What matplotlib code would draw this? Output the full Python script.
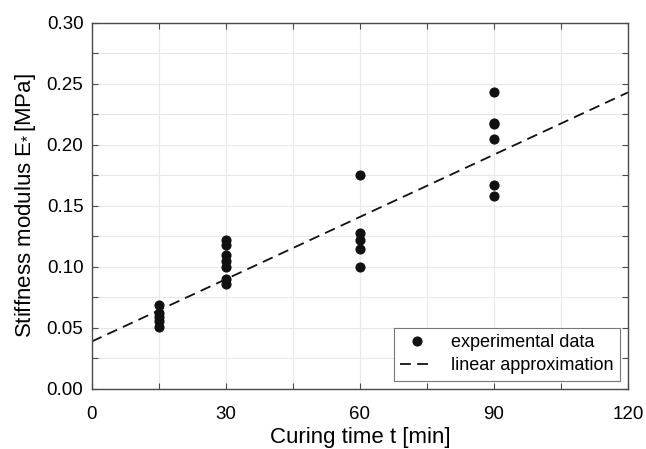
import numpy as np
import matplotlib
matplotlib.use('Agg')
import matplotlib.pyplot as plt
from matplotlib.ticker import MultipleLocator

plt.rcParams['font.family'] = ['Liberation Sans', 'DejaVu Sans']
plt.rcParams['mathtext.fontset'] = 'custom'
plt.rcParams['mathtext.rm'] = 'Liberation Sans'
plt.rcParams['mathtext.default'] = 'regular'

# experimental data (curing time in min, stiffness in MPa)
t15 = [15, 15, 15, 15, 15]
e15 = [0.069, 0.062, 0.059, 0.056, 0.051]
t30 = [30, 30, 30, 30, 30, 30, 30]
e30 = [0.122, 0.118, 0.110, 0.105, 0.100, 0.090, 0.086]
t60 = [60, 60, 60, 60, 60]
e60 = [0.175, 0.128, 0.122, 0.115, 0.100]
t90 = [90, 90, 90, 90, 90, 90]
e90 = [0.243, 0.218, 0.217, 0.205, 0.167, 0.158]

t_data = t15 + t30 + t60 + t90
e_data = e15 + e30 + e60 + e90

# linear approximation end points
t_fit = [0, 120]
e_fit = [0.0388, 0.243]

fig = plt.figure(figsize=(6.46, 4.49), dpi=100)
ax = fig.add_axes([0.142, 0.134, 0.830, 0.815])

ax.plot(t_data, e_data, 'o', color='#111111', markersize=6.3, label='experimental data', zorder=3)
ax.plot(t_fit, e_fit, '--', color='#111111', lw=1.3, dashes=(6, 3.5), label='linear approximation', zorder=2)

ax.set_xlim(0, 120)
ax.set_ylim(0, 0.30)
ax.xaxis.set_major_locator(MultipleLocator(30))
ax.xaxis.set_minor_locator(MultipleLocator(15))
ax.yaxis.set_major_locator(MultipleLocator(0.05))
ax.yaxis.set_minor_locator(MultipleLocator(0.025))
ax.yaxis.set_major_formatter(matplotlib.ticker.FormatStrFormatter('%.2f'))

ax.grid(True, which='both', color='#e8e8e8', lw=0.8, zorder=0)
ax.set_axisbelow(True)
ax.tick_params(which='both', direction='in', top=True, right=True, color='#4a4a4a',
               labelsize=13.5, length=4, width=0.8)
ax.tick_params(axis='x', pad=12)
ax.tick_params(axis='y', pad=6)
for s in ax.spines.values():
    s.set_color('#4a4a4a')
    s.set_linewidth(1.0)

ax.set_xlabel('Curing time t [min]', fontsize=16, labelpad=3)
ax.set_ylabel(r'Stiffness modulus E$_{*}\!$ [MPa]', fontsize=16, labelpad=6)

leg = ax.legend(loc='lower right', fontsize=13, fancybox=False, framealpha=1,
                edgecolor='#777777', handlelength=1.8, borderaxespad=0.45,
                borderpad=0.35, labelspacing=0.35, handletextpad=1.0)
leg.get_frame().set_linewidth(0.8)

fig.savefig('out.png', dpi=100)
